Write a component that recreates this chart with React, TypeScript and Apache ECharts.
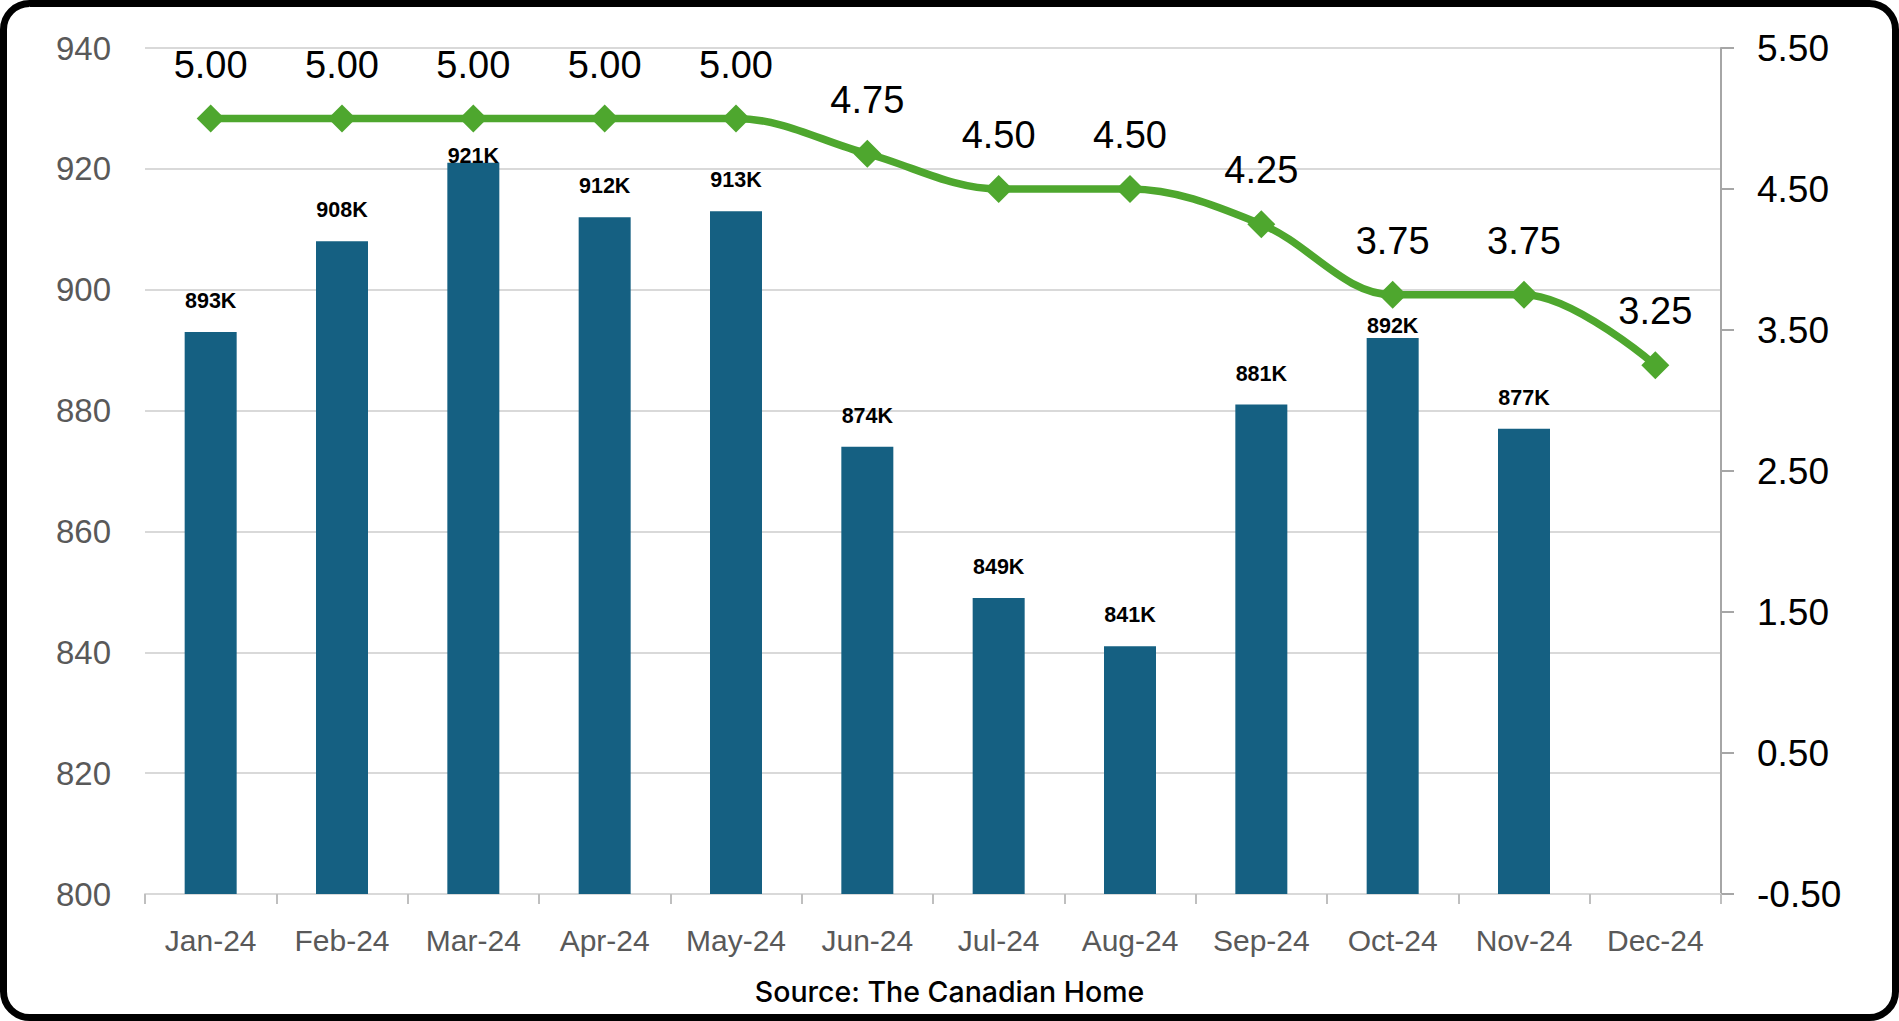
import React, { useEffect, useRef } from "react";
import * as echarts from "echarts";

const categories = [
  "Jan-24", "Feb-24", "Mar-24", "Apr-24", "May-24", "Jun-24",
  "Jul-24", "Aug-24", "Sep-24", "Oct-24", "Nov-24", "Dec-24",
];
// Home sales (thousands)
const salesK: (number | null)[] = [893, 908, 921, 912, 913, 874, 849, 841, 881, 892, 877, null];
// Policy rate (%)
const policyRate = [5.0, 5.0, 5.0, 5.0, 5.0, 4.75, 4.5, 4.5, 4.25, 3.75, 3.75, 3.25];

const leftMin = 800;
const leftMax = 940;
const leftInterval = 20;
const rightTickValues = [-0.5, 0.5, 1.5, 2.5, 3.5, 4.5, 5.5];
const sourceText = "Source: The Canadian Home";

const BAR_COLOR = "#156082";
const LINE_COLOR = "#4EA72E";
const GRID_COLOR = "#d9d9d9";

// bar labels that sit closer to their bar in the original
const labelNudge: Record<string, number> = { "Mar-24": -4, "Oct-24": 1 };

export default function App() {
  const ref = useRef<HTMLDivElement>(null);

  useEffect(() => {
    if (!ref.current) return;
    const chart = echarts.init(ref.current, null, { renderer: "svg" });
    const option: any = {
      animation: false,
      backgroundColor: "#ffffff",
      grid: { left: 145, right: 178, top: 48, bottom: 127 },
      xAxis: {
        type: "category",
        data: categories,
        boundaryGap: true,
        axisLine: { show: true, onZero: false, lineStyle: { color: GRID_COLOR, width: 2 } },
        axisTick: { show: true, interval: 0, length: 10, lineStyle: { color: "#bfbfbf", width: 2 } },
        axisLabel: {
          interval: 0,
          color: "#595959",
          fontFamily: "Liberation Sans, Arial, sans-serif",
          fontSize: 30,
          margin: 31,
        },
      },
      yAxis: [
        {
          type: "value",
          min: leftMin,
          max: leftMax,
          interval: leftInterval,
          axisLine: { show: false },
          axisTick: { show: false },
          splitLine: { show: true, lineStyle: { color: GRID_COLOR, width: 2 } },
          axisLabel: {
            color: "#595959",
            fontFamily: "Liberation Sans, Arial, sans-serif",
            fontSize: 33,
            margin: 34,
          },
        },
        {
          type: "value",
          position: "right",
          min: rightTickValues[0],
          max: rightTickValues[rightTickValues.length - 1],
          axisLine: { show: true, onZero: false, lineStyle: { color: "#a6a6a6", width: 2 } },
          axisTick: {
            show: true,
            length: 13,
            inside: false,
            customValues: rightTickValues,
            lineStyle: { color: "#a6a6a6", width: 2 },
          },
          splitLine: { show: false },
          axisLabel: {
            customValues: rightTickValues,
            color: "#000000",
            fontFamily: "Liberation Sans, Arial, sans-serif",
            fontSize: 37,
            margin: 36,
            formatter: (v: number) => v.toFixed(2),
          },
        },
      ],
      series: [
        {
          name: "Home sales",
          type: "bar",
          yAxisIndex: 0,
          barWidth: 52,
          itemStyle: { color: BAR_COLOR },
          data: salesK.map((v, i) => ({
            value: v,
            label: { distance: labelNudge[categories[i]] ?? 20 },
          })),
          label: {
            show: true,
            position: "top",
            color: "#000000",
            fontWeight: "bold",
            fontSize: 21.5,
            fontFamily: "Liberation Sans, Arial, sans-serif",
            formatter: (p: any) => (p.value == null ? "" : `${p.value}K`),
          },
        },
        {
          name: "Policy rate",
          type: "line",
          yAxisIndex: 1,
          data: policyRate,
          smooth: 0.35,
          symbol: "diamond",
          symbolSize: 28,
          lineStyle: { color: LINE_COLOR, width: 7.5 },
          itemStyle: { color: LINE_COLOR },
          label: {
            show: true,
            position: "top",
            distance: 21,
            color: "#000000",
            fontSize: 38,
            fontFamily: "Liberation Sans, Arial, sans-serif",
            formatter: (p: any) => Number(p.value).toFixed(2),
          },
          z: 5,
        },
      ],
      graphic: [
        {
          type: "text",
          left: "center",
          top: 977,
          style: {
            text: sourceText,
            fill: "#000000",
            fontSize: 28.5,
            fontWeight: 500,
            fontFamily: "Inter, Noto Sans, sans-serif",
          },
        },
        {
          type: "rect",
          shape: { x: 3.5, y: 3.5, width: 1892, height: 1014, r: 26 },
          style: { fill: "none", stroke: "#000000", lineWidth: 7 },
          silent: true,
        },
      ],
    };
    chart.setOption(option);
    return () => chart.dispose();
  }, []);

  return (
    <div
      ref={ref}
      style={{ position: "absolute", left: 0, top: 0, width: 1899, height: 1021 }}
    />
  );
}
